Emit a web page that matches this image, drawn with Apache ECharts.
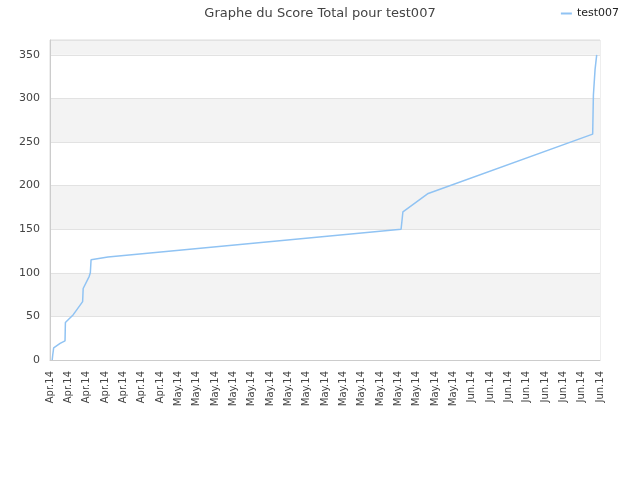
<!DOCTYPE html>
<html>
<head>
<meta charset="utf-8">
<script src="https://cdn.jsdelivr.net/npm/echarts@6/dist/echarts.min.js"></script>
<style>html,body{margin:0;padding:0;background:#fff;}#c{width:640px;height:480px;}</style>
</head>
<body>
<div id="c"></div>
<script>
var tickLabels = ['Apr.14','Apr.14','Apr.14','Apr.14','Apr.14','Apr.14','Apr.14',
  'May.14','May.14','May.14','May.14','May.14','May.14','May.14','May.14','May.14','May.14','May.14','May.14','May.14','May.14','May.14','May.14',
  'Jun.14','Jun.14','Jun.14','Jun.14','Jun.14','Jun.14','Jun.14','Jun.14'];
var xPos = [0.12, 0.15, 0.2, 0.55, 0.82, 0.84, 1.27, 1.78, 1.81, 2.14, 2.2, 2.24, 3.16, 19.15, 19.25, 20.63, 29.6, 29.64, 29.73, 29.82];
var scores = [0, 6, 14, 19, 22, 43, 52, 67, 82, 96, 100, 115, 118, 150, 170, 191, 259, 304, 333, 350];
var seriesName = 'test007';

var data = xPos.map(function (x, i) { return [x, scores[i]]; });
var chart = echarts.init(document.getElementById('c'));
chart.setOption({
  animation: false,
  title: {
    text: 'Graphe du Score Total pour test007',
    left: 'center', top: 2,
    textStyle: { fontFamily: 'DejaVu Sans', fontSize: 13, fontWeight: 'normal', color: '#444' }
  },
  legend: {
    right: 16, top: 3,
    icon: 'rect', itemWidth: 11, itemHeight: 2, itemGap: 8,
    textStyle: { fontFamily: 'DejaVu Sans', fontSize: 11, color: '#222' },
    data: [seriesName]
  },
  grid: { left: 50, right: 40, top: 40, bottom: 120, show: true, borderColor: '#dddddd', borderWidth: 1, backgroundColor: 'transparent' },
  xAxis: {
    type: 'value', min: 0, max: 30, interval: 1,
    axisLine: { show: true, lineStyle: { color: '#cccccc' } },
    axisTick: { show: false },
    splitLine: { show: false },
    axisLabel: {
      rotate: 90, margin: 11, fontFamily: 'DejaVu Sans', fontSize: 10, color: '#444',
      formatter: function (v) { return tickLabels[Math.round(v)] || ''; }
    }
  },
  yAxis: {
    type: 'value', min: 0, max: 367, interval: 50,
    axisLine: { show: true, lineStyle: { color: '#cccccc' } },
    axisTick: { show: false },
    axisLabel: { showMaxLabel: false, margin: 10, fontFamily: 'DejaVu Sans', fontSize: 11, color: '#444' },
    splitLine: { show: true, lineStyle: { color: '#e2e2e2' } },
    splitArea: { show: true, areaStyle: { color: ['#ffffff', '#f3f3f3'] } }
  },
  series: [{
    name: seriesName, type: 'line', data: data,
    showSymbol: false, symbol: 'none',
    lineStyle: { color: '#90c3f3', width: 1.5 },
    itemStyle: { color: '#90c3f3' }
  }]
});
</script>
</body>
</html>
